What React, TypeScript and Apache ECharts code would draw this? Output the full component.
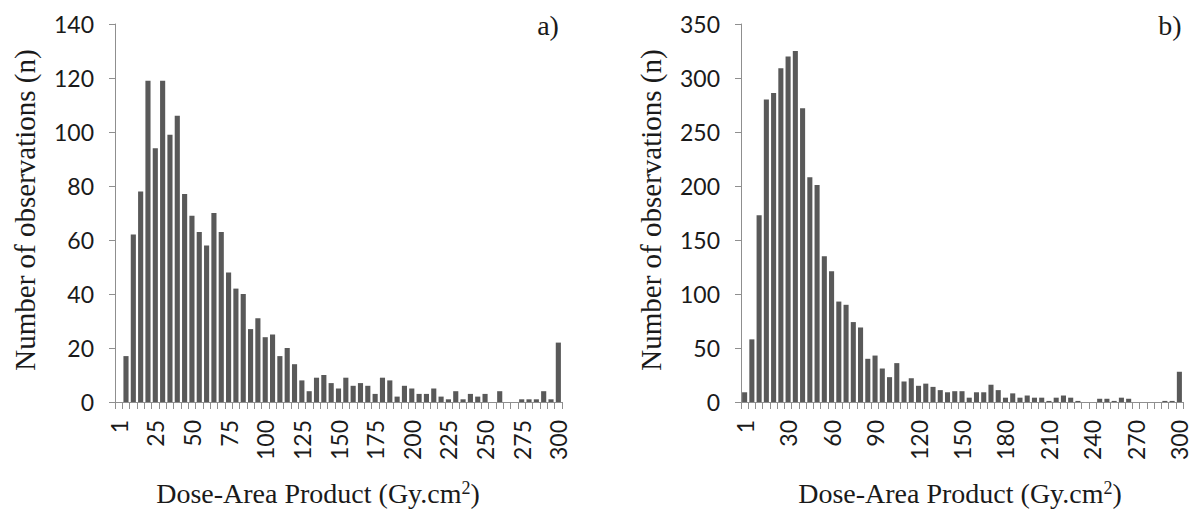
import React, { useEffect, useRef } from "react";
import * as echarts from "echarts";

const categories = [
  "1", "5", "10", "15", "20", "25", "30", "35", "40", "45", "50", "55", "60", "65", "70", "75",
  "80", "85", "90", "95", "100", "105", "110", "115", "120", "125", "130", "135", "140", "145",
  "150", "155", "160", "165", "170", "175", "180", "185", "190", "195", "200", "205", "210",
  "215", "220", "225", "230", "235", "240", "245", "250", "255", "260", "265", "270", "275",
  "280", "285", "290", "295", "300",
];

const countsA = [
  0, 17, 62, 78, 119, 94, 119, 99, 106, 77, 69,
  63, 58, 70, 63, 48, 42, 40, 27, 31, 24,
  25, 17, 20, 14, 8, 4, 9, 10, 7, 5,
  9, 6, 7, 6, 3, 9, 8, 2, 6, 5,
  3, 3, 5, 2, 1, 4, 1, 3, 2, 3,
  0, 4, 0, 0, 1, 1, 1, 4, 1, 22,
];

const countsB = [
  9, 58, 173, 280, 286, 309, 320, 325, 272, 208,
  201, 135, 121, 93, 90, 74, 69, 40, 43, 31,
  23, 36, 19, 22, 15, 17, 14, 11, 9, 10,
  10, 4, 9, 9, 16, 11, 4, 8, 4, 6,
  4, 4, 1, 4, 6, 4, 1, 0, 0, 3,
  3, 1, 4, 3, 0, 0, 0, 0, 1, 1, 28,
];

const yTitle = "Number of observations (n)";
const panelLabels = ["a)", "b)"];

const SANS = "Lato, 'Open Sans', sans-serif";
const SERIF = "'Liberation Serif', 'DejaVu Serif', serif";
const AXIS = "#8f8f8f";
const BAR = "#595959";

export default function App() {
  const ref = useRef<HTMLDivElement>(null);
  useEffect(() => {
    document.body.style.margin = "0";
    if (!ref.current) return;
    const chart = echarts.init(ref.current, undefined, { renderer: "svg" });

    const xAxisBase = (gridIndex: number, labelInterval: number) => ({
      type: "category",
      gridIndex,
      data: categories,
      boundaryGap: true,
      axisLine: { lineStyle: { color: AXIS, width: 1 } },
      axisTick: { show: true, interval: 0, length: 7, alignWithLabel: false, lineStyle: { color: AXIS } },
      axisLabel: {
        interval: labelInterval,
        rotate: 90,
        margin: 18,
        fontSize: 23,
        fontFamily: SANS,
        color: "#1a1a1a",
      },
      splitLine: { show: false },
    });

    const yAxisBase = (gridIndex: number, max: number, interval: number) => ({
      type: "value",
      gridIndex,
      min: 0,
      max,
      interval,
      axisLine: { show: true, lineStyle: { color: AXIS, width: 1 } },
      axisTick: { show: true, length: 6, lineStyle: { color: AXIS } },
      axisLabel: { margin: 21, fontSize: 23, fontFamily: SANS, color: "#1a1a1a" },
      splitLine: { show: false },
    });

    const xTitle = (cx: number) => ({
      type: "text",
      x: cx,
      y: 493,
      style: {
        text: "{t|Dose-Area Product (Gy.cm}{s|2}{t|)}",
        align: "center",
        verticalAlign: "middle",
        fill: "#1a1a1a",
        rich: {
          t: { fontSize: 28, fontFamily: SERIF, fill: "#1a1a1a", verticalAlign: "bottom" },
          s: { fontSize: 18, fontFamily: SERIF, fill: "#1a1a1a", verticalAlign: "top" },
        },
      },
    });

    const yTitleEl = (cx: number) => ({
      type: "text",
      x: cx,
      y: 210,
      rotation: Math.PI / 2,
      style: {
        text: yTitle,
        align: "center",
        verticalAlign: "middle",
        fontSize: 29,
        fontFamily: SERIF,
        fill: "#1a1a1a",
      },
    });

    chart.setOption({
      animation: false,
      backgroundColor: "#ffffff",
      grid: [
        { left: 115, top: 24, width: 447, height: 378 },
        { left: 741, top: 24, width: 442, height: 378 },
      ],
      xAxis: [xAxisBase(0, 4), xAxisBase(1, 5)],
      yAxis: [yAxisBase(0, 140, 20), yAxisBase(1, 350, 50)],
      series: [
        {
          type: "bar",
          xAxisIndex: 0,
          yAxisIndex: 0,
          data: countsA,
          barCategoryGap: "30%",
          itemStyle: { color: BAR },
        },
        {
          type: "bar",
          xAxisIndex: 1,
          yAxisIndex: 1,
          data: countsB,
          barCategoryGap: "30%",
          itemStyle: { color: BAR },
        },
      ],
      graphic: [
        yTitleEl(25),
        yTitleEl(651),
        xTitle(318),
        xTitle(960),
        {
          type: "text",
          x: 548,
          y: 25,
          style: { text: panelLabels[0], align: "center", verticalAlign: "middle", fontSize: 28, fontFamily: SERIF, fill: "#1a1a1a" },
        },
        {
          type: "text",
          x: 1170,
          y: 25,
          style: { text: panelLabels[1], align: "center", verticalAlign: "middle", fontSize: 28, fontFamily: SERIF, fill: "#1a1a1a" },
        },
      ],
    });

    return () => chart.dispose();
  }, []);

  return <div ref={ref} style={{ width: 1193, height: 509 }} />;
}
